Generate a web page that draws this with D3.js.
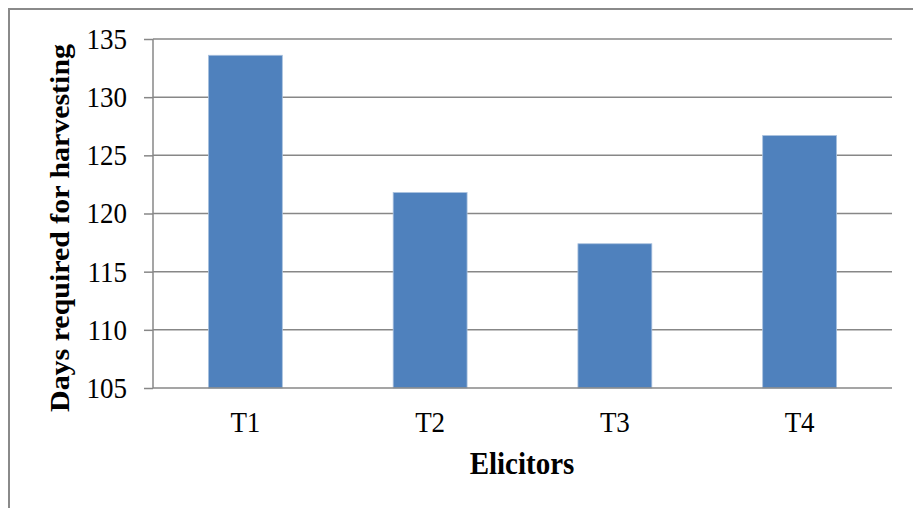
<!DOCTYPE html>
<html>
<head>
<meta charset="utf-8">
<script src="https://cdn.jsdelivr.net/npm/d3@7"></script>
<style>
  html, body { margin: 0; padding: 0; background: #fff; }
  svg { display: block; }
</style>
</head>
<body>
<svg id="chart" width="913" height="508"></svg>
<script>
// Days to harvest for each elicitor treatment
const categories = ["T1", "T2", "T3", "T4"];
const daysToHarvest = [133.6, 121.8, 117.4, 126.7];
const yTicks = [105, 110, 115, 120, 125, 130, 135];

const svg = d3.select("#chart");
const font = "'Liberation Serif', 'Times New Roman', serif";
const gridColor = "#878787";
const stretch = 1.08; // text is drawn slightly taller than wide

// Plot region
const plotLeft = 153, plotRight = 892, plotTop = 39, plotBottom = 388;

// Frame around the chart area (top and left edges visible)
svg.append("path")
  .attr("d", "M9,508 L9,9 L913,9")
  .attr("fill", "none")
  .attr("stroke", "#8a8a8a")
  .attr("stroke-width", 2);

const x = d3.scaleBand().domain(categories).range([plotLeft, plotRight]).paddingInner(0.6).paddingOuter(0.3);
const y = d3.scaleLinear().domain([105, 135]).range([plotBottom, plotTop]);

// Horizontal gridlines
svg.append("g")
  .selectAll("line")
  .data(yTicks.slice(1))
  .join("line")
  .attr("x1", plotLeft).attr("x2", plotRight)
  .attr("y1", d => y(d)).attr("y2", d => y(d))
  .attr("stroke", gridColor).attr("stroke-width", 1.5);

// Bars
svg.append("g")
  .selectAll("rect")
  .data(categories.map((c, i) => ({ c, v: daysToHarvest[i] })))
  .join("rect")
  .attr("x", d => x(d.c))
  .attr("width", x.bandwidth())
  .attr("y", d => y(d.v))
  .attr("height", d => y(105) - y(d.v))
  .attr("fill", "#4f81bd")
  .attr("stroke", "#a9c1de")
  .attr("stroke-width", 0.8);

// Y axis
const yAxis = svg.append("g")
  .attr("transform", `translate(${plotLeft},0)`)
  .call(d3.axisLeft(y).tickValues(yTicks).tickSize(9).tickPadding(17).tickFormat(d3.format("d")));
yAxis.select(".domain").attr("stroke", gridColor).attr("stroke-width", 1.5).attr("d", `M0,${plotTop}V${plotBottom}`);
yAxis.selectAll(".tick line").attr("stroke", gridColor).attr("stroke-width", 1.5);
yAxis.selectAll(".tick text")
  .attr("font-family", font).attr("font-size", 27).attr("fill", "#000")
  .attr("transform", `scale(1,${stretch})`);

// X axis
const xAxis = svg.append("g")
  .attr("transform", `translate(0,${plotBottom})`)
  .call(d3.axisBottom(x).tickSize(0));
xAxis.select(".domain").attr("stroke", gridColor).attr("stroke-width", 1.5).attr("d", `M${plotLeft},0H${plotRight}`);
xAxis.selectAll(".tick text")
  .attr("font-family", font).attr("font-size", 27).attr("fill", "#000")
  .attr("y", 41).attr("dy", 0)
  .attr("transform", `scale(1,${stretch})`);

// Axis titles
svg.append("text")
  .attr("transform", `translate(522,474) scale(1,${stretch})`)
  .attr("text-anchor", "middle")
  .attr("font-family", font).attr("font-size", 29).attr("font-weight", "bold")
  .text("Elicitors");

svg.append("text")
  .attr("transform", `translate(69,228) rotate(-90) scale(${stretch},1)`)
  .attr("text-anchor", "middle")
  .attr("font-family", font).attr("font-size", 27.7).attr("font-weight", "bold")
  .text("Days required for harvesting");
</script>
</body>
</html>
